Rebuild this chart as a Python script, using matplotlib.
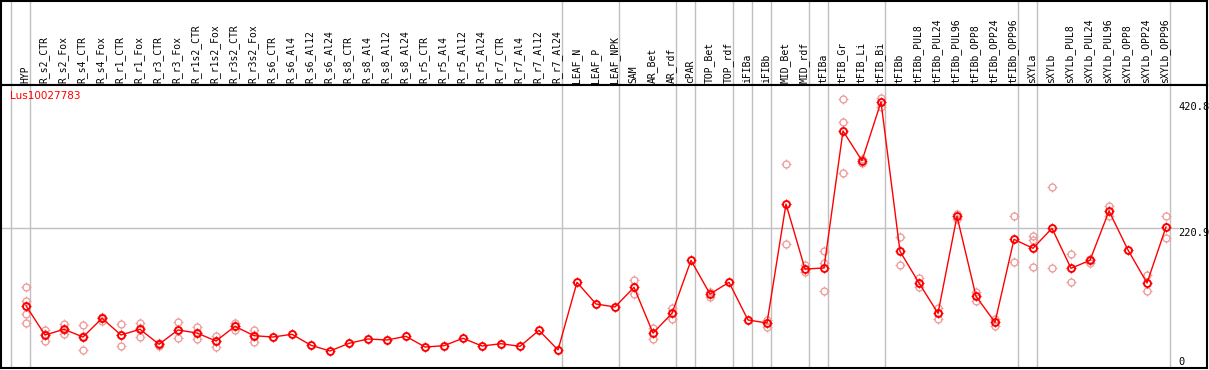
import matplotlib
matplotlib.use("Agg")
import matplotlib.pyplot as plt
from matplotlib.path import Path

# Sample names (one column each)
samples = [
    "HYP", "R_s2_CTR", "R_s2_Fox", "R_s4_CTR", "R_s4_Fox", "R_r1_CTR", "R_r1_Fox",
    "R_r3_CTR", "R_r3_Fox", "R_r1s2_CTR", "R_r1s2_Fox", "R_r3s2_CTR", "R_r3s2_Fox",
    "R_s6_CTR", "R_s6_Al4", "R_s6_Al12", "R_s6_Al24", "R_s8_CTR", "R_s8_Al4",
    "R_s8_Al12", "R_s8_Al24", "R_r5_CTR", "R_r5_Al4", "R_r5_Al12", "R_r5_Al24",
    "R_r7_CTR", "R_r7_Al4", "R_r7_Al12", "R_r7_Al24", "LEAF_N", "LEAF_P", "LEAF_NPK",
    "SAM", "AR_Bet", "AR_rdf", "cPAR", "TOP_Bet", "TOP_rdf", "iFIBa", "iFIBb",
    "MID_Bet", "MID_rdf", "tFIBa", "tFIB_Gr", "tFIB_Li", "tFIB_Bi", "tFIBb",
    "tFIBb_PUL8", "tFIBb_PUL24", "tFIBb_PUL96", "tFIBb_OPP8", "tFIBb_OPP24",
    "tFIBb_OPP96", "sXYLa", "sXYLb", "sXYLb_PUL8", "sXYLb_PUL24", "sXYLb_PUL96",
    "sXYLb_OPP8", "sXYLb_OPP24", "sXYLb_OPP96",
]

# Mean expression per sample
means = [
    98.5, 52.2, 61.2, 49.0, 78.6, 52.2, 61.2, 37.5, 60.1, 55.3, 42.7, 65.9, 51.1,
    49.0, 53.3, 35.9, 26.9, 39.0, 45.9, 44.3, 50.1, 33.2, 35.3, 47.0, 34.8,
    38.4, 34.3, 59.6, 28.5, 135.5, 101.2, 96.5,
    127.6, 55.3, 86.5, 170.2, 117.0, 135.5, 75.9, 71.2,
    259.3, 156.5, 158.1, 374.8, 327.8, 420.8, 184.5,
    134.4, 86.5, 239.9, 113.4, 72.2, 203.5,
    189.3, 220.9, 157.6, 170.3, 248.3, 186.6, 134.4, 222.9,
]

# Individual replicates (only those visible apart from the mean)
replicates = [
    [127.7, 106.0, 85.2, 71.4], [60.1, 42.7, 53.6], [70.1, 53.8, 59.5],
    [67.4, 28.5, 50.6], [80.2, 74.3, 79.3], [69.4, 34.3, 52.6], [71.6, 49.5, 62.5],
    [39.5, 34.8, 37.8], [72.7, 47.0, 60.5], [64.8, 45.4, 55.5], [51.1, 33.7, 42.7],
    [70.7, 60.1, 66.4], [60.1, 41.6, 51.6],
    [], [], [], [], [], [], [], [], [], [], [], [], [], [], [], [], [], [], [],
    [138.6, 116.5], [63.7, 45.4], [94.4, 78.0], [], [120.2, 112.8], [], [],
    [75.9, 64.8],
    [322.6, 196.1], [162.3, 151.4], [184.5, 166.5, 121.8], [425.2, 388.6, 308.4],
    [331.0, 323.7], [427.1, 412.3], [207.6, 162.3],
    [142.8, 127.6], [94.9, 78.0], [243.3, 236.1], [120.7, 106.4], [77.0, 66.4],
    [239.9, 167.1],
    [209.2, 202.4, 159.2], [286.2, 157.6], [180.3, 136.0], [172.4, 166.5],
    [256.2, 240.4], [], [147.1, 121.8], [239.9, 205.1],
]

# Group separators: vertical line after these sample indices
group_ends = [-1, 0, 28, 31, 34, 35, 37, 38, 39, 41, 42, 45, 52, 53, 60]

gene = "Lus10027783"
ytick_values = [0, 220.9, 420.8]
ytick_labels = ["0", "220.9", "420.8"]

GRID = "#c0c0c0"
RED = "#ff0000"
PINK = "#ee9f9f"
W, H = 1209, 370

# four little ticks sitting just outside the circle marker
t = 1.4
ticks = Path([(0, 1), (0, t), (0, -1), (0, -t), (1, 0), (t, 0), (-1, 0), (-t, 0)],
             [Path.MOVETO, Path.LINETO] * 4)
CIRC = 5.0


def draw_marks(ax, x, y, color, lw):
    z = 4 if color == RED else 2
    ax.plot(x, y, linestyle="none", marker="o", markersize=CIRC, mfc="none",
            mec=color, mew=lw, zorder=z)
    ax.plot(x, y, linestyle="none", marker=ticks, markersize=CIRC * t,
            mfc="none", mec=color, mew=0.8, zorder=z)


fig = plt.figure(figsize=(W / 100, H / 100), dpi=100)
xs = list(range(len(samples)))
xlim = ((1 - 26) / 19, (1207 - 26) / 19)

ax_h = fig.add_axes([1 / W, (H - 85) / H, 1206 / W, 84.5 / H])
ax = fig.add_axes([1 / W, (H - 368) / H, 1206 / W, 283 / H])

for a in (ax_h, ax):
    a.set_xlim(*xlim)
    a.set_xticks([])
    a.set_yticks([])
    for s in a.spines.values():
        s.set_color("black")
        s.set_linewidth(1.5)
    for k in group_ends:
        a.axvline(k + 4 / 19, color=GRID, lw=1, zorder=0)

ax_h.set_ylim(0, 1)
for x, name in zip(xs, samples):
    ax_h.text(x - 0.05, 2 / 85, name, rotation=90, ha="center", va="bottom",
              fontsize=7, family="DejaVu Sans Mono", color="black")

y_top = (368 - 85) / 0.6324
ax.set_ylim(0, y_top)
ax.axhline(ytick_values[1], xmax=(1178 - 1) / 1206, color=GRID, lw=1, zorder=0)

for val, lab in zip(ytick_values, ytick_labels):
    va = "bottom" if val == 0 else "top"
    yy = val + 1.5 if val == 0 else val
    ax.text((1178 - 1) / 1206, yy, lab, transform=ax.get_yaxis_transform(),
            ha="left", va=va, fontsize=7.5, family="DejaVu Sans Mono")

for x, reps in zip(xs, replicates):
    if reps:
        draw_marks(ax, [x] * len(reps), reps, PINK, 1.0)

ax.plot(xs, means, color=RED, lw=1, zorder=3)
draw_marks(ax, xs, means, RED, 1.4)

ax.text(9 / 1206, 1 - 6 / 283, gene, transform=ax.transAxes, ha="left",
        va="top", fontsize=7.5, color=RED)

fig.savefig("out.png", dpi=100)
